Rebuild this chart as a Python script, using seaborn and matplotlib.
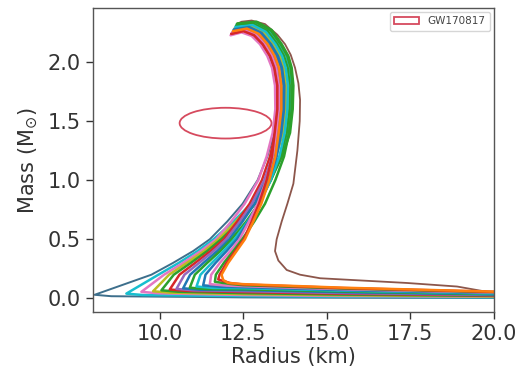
import matplotlib
matplotlib.use("Agg")
import matplotlib.pyplot as plt
from matplotlib.patches import Ellipse
import pandas as pd
import seaborn as sns

# shared mass levels of the rising (upper) branch
M_UP = [0.2, 0.3, 0.4, 0.5, 0.65, 0.8, 1.0, 1.2, 1.4, 1.6, 1.8, 1.95, 2.05, 2.15]

# each curve: radius (km) and mass (Msun)
C00_R = [20.5, 20.0, 18.9, 17.4, 14.8, 14.2, 13.8, 13.55, 13.45, 13.5, 13.65, 13.82, 14.0, 14.12,
         14.19, 14.2, 14.15, 14.05, 13.92, 13.75, 13.52, 13.15, 12.75, 12.45, 12.3]
C00_M = [0.035, 0.045, 0.10, 0.13, 0.17, 0.20, 0.24, 0.32, 0.40, 0.50, 0.65, 0.80, 0.97, 1.25,
         1.50, 1.68, 1.82, 1.95, 2.06, 2.15, 2.23, 2.32, 2.35, 2.34, 2.32]

C01_R = [20.5, 15.5, 12.5, 8.55, 8.05, 9.75, 10.4, 11.0, 11.5, 12.02, 12.48, 12.93, 13.22, 13.43,
         13.51, 13.51, 13.42, 13.28, 13.07, 12.81, 12.50, 12.14]
C01_M = [0.003, 0.005, 0.008, 0.018, 0.030] + M_UP + [2.225, 2.259, 2.235]

C02_R = [20.5, 15.5, 12.5, 9.5, 9.0, 9.96, 10.57, 11.13, 11.61, 12.21, 12.73, 13.23, 13.59, 13.85,
         13.93, 13.95, 13.89, 13.79, 13.59, 13.29, 12.86, 12.30]
C02_M = [0.008, 0.0135, 0.019, 0.028, 0.040] + M_UP + [2.265, 2.331, 2.315]

C03_R = [20.5, 15.5, 12.5, 9.95, 9.45, 10.13, 10.70, 11.23, 11.69, 12.14, 12.54, 12.95, 13.20, 13.38,
         13.46, 13.45, 13.36, 13.22, 13.0, 12.75, 12.45, 12.12]
C03_M = [0.012, 0.020, 0.028, 0.043, 0.055] + M_UP + [2.22, 2.25, 2.225]

C04_R = [20.5, 15.5, 12.5, 10.3, 9.8, 10.28, 10.81, 11.33, 11.76, 12.28, 12.73, 13.17, 13.48, 13.69,
         13.77, 13.78, 13.71, 13.60, 13.39, 13.11, 12.72, 12.24]
C04_M = [0.0155, 0.026, 0.036, 0.048, 0.060] + M_UP + [2.25, 2.304, 2.285]

C05_R = [20.5, 15.5, 12.5, 10.55, 10.05, 10.42, 10.93, 11.42, 11.84, 12.39, 12.86, 13.32, 13.66, 13.9,
         13.98, 14.0, 13.95, 13.85, 13.65, 13.35, 12.90, 12.32]
C05_M = [0.019, 0.032, 0.044, 0.056, 0.068] + M_UP + [2.27, 2.34, 2.325]

C06_R = [20.5, 15.5, 12.5, 10.8, 10.3, 10.59, 11.06, 11.52, 11.92, 12.32, 12.69, 13.06, 13.30, 13.46,
         13.54, 13.53, 13.45, 13.32, 13.10, 12.84, 12.52, 12.15]
C06_M = [0.023, 0.039, 0.053, 0.063, 0.075] + M_UP + [2.228, 2.264, 2.24]

C07_R = [20.5, 15.5, 12.5, 11.0, 10.5, 10.74, 11.18, 11.61, 11.99, 12.40, 12.76, 13.13, 13.37, 13.54,
         13.62, 13.62, 13.54, 13.41, 13.20, 12.93, 12.59, 12.18]
C07_M = [0.0265, 0.045, 0.061, 0.068, 0.080] + M_UP + [2.235, 2.277, 2.255]

C08_R = [20.5, 15.5, 12.5, 11.2, 10.7, 10.91, 11.31, 11.72, 12.08, 12.48, 12.84, 13.20, 13.45, 13.61,
         13.69, 13.70, 13.63, 13.50, 13.29, 13.02, 12.65, 12.21]
C08_M = [0.0305, 0.052, 0.070, 0.073, 0.085] + M_UP + [2.243, 2.29, 2.27]

C09_R = [20.5, 15.5, 12.5, 11.4, 10.9, 11.05, 11.42, 11.81, 12.15, 12.59, 12.96, 13.33, 13.61, 13.80,
         13.88, 13.89, 13.83, 13.72, 13.52, 13.23, 12.81, 12.28]
C09_M = [0.034, 0.058, 0.077, 0.078, 0.090] + M_UP + [2.26, 2.322, 2.305]

C10_R = [20.5, 15.5, 12.5, 11.6, 11.1, 11.22, 11.56, 11.91, 12.24, 12.63, 12.98, 13.32, 13.58, 13.74,
         13.82, 13.84, 13.77, 13.66, 13.46, 13.17, 12.77, 12.26]
C10_M = [0.038, 0.0645, 0.086, 0.088, 0.100] + M_UP + [2.255, 2.313, 2.295]

C11_R = [20.5, 15.5, 12.5, 11.8, 11.3, 11.37, 11.67, 12.00, 12.31, 12.65, 12.96, 13.27, 13.50, 13.64,
         13.72, 13.73, 13.66, 13.54, 13.33, 13.05, 12.68, 12.22]
C11_M = [0.0415, 0.070, 0.094, 0.098, 0.110] + M_UP + [2.245, 2.295, 2.275]

C12_R = [20.5, 15.5, 12.5, 12.0, 11.5, 11.54, 11.80, 12.11, 12.39, 12.67, 12.93, 13.19, 13.38, 13.48,
         13.56, 13.56, 13.48, 13.35, 13.13, 12.87, 12.54, 12.16]
C12_M = [0.0455, 0.077, 0.103, 0.108, 0.120] + M_UP + [2.23, 2.268, 2.245]

C13_R = [20.5, 15.5, 12.5, 12.1, 11.65, 11.68, 11.92, 12.20, 12.47, 12.83, 13.15, 13.46, 13.72, 13.87,
         13.95, 13.97, 13.92, 13.82, 13.62, 13.32, 12.88, 12.31]
C13_M = [0.049, 0.083, 0.111, 0.122, 0.140] + M_UP + [2.268, 2.336, 2.32]

C14_R = [20.5, 15.5, 12.5, 12.1, 11.75, 11.79, 12.00, 12.26, 12.52, 12.75, 12.97, 13.20, 13.36, 13.44,
         13.52, 13.52, 13.43, 13.30, 13.08, 12.82, 12.50, 12.14]
C14_M = [0.0515, 0.087, 0.117, 0.130, 0.160] + M_UP + [2.226, 2.261, 2.237]

C15_R = [20.5, 15.5, 12.5, 12.05, 11.9, 11.85, 12.05, 12.3, 12.55, 12.80, 13.04, 13.28, 13.46, 13.56,
         13.64, 13.64, 13.57, 13.44, 13.23, 12.96, 12.61, 12.19]
C15_M = [0.053, 0.090, 0.120, 0.130, 0.155] + M_UP + [2.238, 2.282, 2.26]

CURVE_NAMES = ["c00", "c01", "c02", "c03", "c04", "c05", "c06", "c07", "c08",
               "c09", "c10", "c11", "c12", "c13", "c14", "c15"]
CURVE_COLORS = ["#8c564b", "#3d6f8c", "#17becf", "#e377c2", "#bcbd22", "#2ca02c", "#d62728",
                "#9467bd", "#1f77b4", "#2ca02c", "#17becf", "#1f77b4", "#e377c2", "#2ca02c",
                "#d62728", "#ff7f0e"]
CURVE_R = [C00_R, C01_R, C02_R, C03_R, C04_R, C05_R, C06_R, C07_R, C08_R,
           C09_R, C10_R, C11_R, C12_R, C13_R, C14_R, C15_R]
CURVE_M = [C00_M, C01_M, C02_M, C03_M, C04_M, C05_M, C06_M, C07_M, C08_M,
           C09_M, C10_M, C11_M, C12_M, C13_M, C14_M, C15_M]

# GW170817 constraint ellipse (center R, center M, width, height)
GW_LABEL = "GW170817"
GW_CENTER = (11.97, 1.482)
GW_SIZE = (2.75, 0.26)

rows = []
for name, rs, ms in zip(CURVE_NAMES, CURVE_R, CURVE_M):
    for i, (r, m) in enumerate(zip(rs, ms)):
        rows.append({"curve": name, "idx": i, "R": r, "M": m})
df = pd.DataFrame(rows)

sns.set_style("ticks")
plt.rcParams["font.family"] = ["DejaVu Sans"]
plt.rcParams["mathtext.fontset"] = "dejavusans"

fig = plt.figure(figsize=(5.31, 3.69), dpi=100)
ax = fig.add_axes([0.175, 0.154, 0.755, 0.824])

sns.lineplot(data=df, x="R", y="M", hue="curve", hue_order=CURVE_NAMES,
             palette=dict(zip(CURVE_NAMES, CURVE_COLORS)), sort=False,
             estimator=None, legend=False, linewidth=1.8, ax=ax)
# the outlier (brown) and outermost curves are drawn thinner in the reference
ax.lines[0].set_linewidth(1.3)
ax.lines[1].set_linewidth(1.4)

ell = Ellipse(GW_CENTER, GW_SIZE[0], GW_SIZE[1], fill=False, edgecolor="#d64a5e",
              linewidth=1.3, label=GW_LABEL, zorder=1)
ax.add_patch(ell)

ax.set_xlim(8, 20)
ax.set_ylim(-0.117, 2.455)
ax.set_xticks([10, 12.5, 15, 17.5, 20])
ax.set_yticks([0, 0.5, 1.0, 1.5, 2.0])
ax.set_xticklabels(["10.0", "12.5", "15.0", "17.5", "20.0"])
ax.set_yticklabels(["0.0", "0.5", "1.0", "1.5", "2.0"])
ax.tick_params(labelsize=15, colors="#333333", length=5, width=1.0)
ax.set_xlabel("Radius (km)", fontsize=15, color="#333333", labelpad=2)
ax.set_ylabel(r"Mass (M$_{\odot}$)", fontsize=15, color="#333333", labelpad=6)
for sp in ax.spines.values():
    sp.set_visible(True)
    sp.set_color("#555555")
    sp.set_linewidth(1.0)

leg = ax.legend(handles=[ell], labels=[GW_LABEL], loc="upper right", fontsize=7.5,
                handlelength=2.4, frameon=True, borderaxespad=0.4)
leg.get_frame().set_edgecolor("#cccccc")
for t in leg.get_texts():
    t.set_color("#444444")

fig.savefig("out.png", dpi=100)
